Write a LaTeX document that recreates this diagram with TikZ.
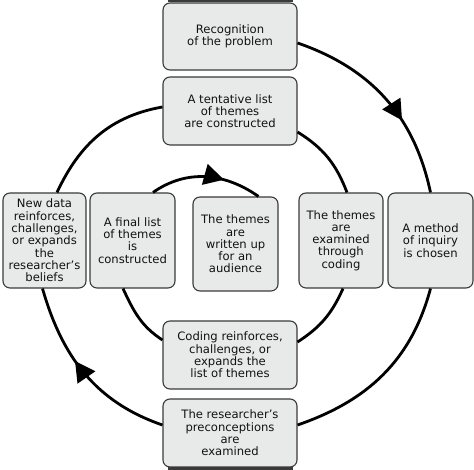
\documentclass[tikz,border=0pt]{standalone}
\usepackage{fontspec}
\setmainfont{DejaVu Sans}
\usetikzlibrary{arrows.meta,decorations.markings,calc}
\definecolor{boxfill}{HTML}{E8EAEA}
\definecolor{boxline}{HTML}{3A3A3A}
\definecolor{txt}{HTML}{111111}
\tikzset{
  stepbox/.style={draw=boxline, line width=1.1pt, fill=boxfill, rounded corners=7pt,
    align=center, inner sep=0pt, text=txt,
    font=\fontsize{11.6}{12.3}\selectfont},
  widebox/.style={stepbox, minimum width=134pt, minimum height=68pt},
  tallbox/.style={stepbox, minimum width=84pt, minimum height=95pt},
  link/.style={line width=2.8pt, black},
  midarrow/.style={postaction={decorate}, decoration={markings,
    mark=at position #1 with {\arrow{Triangle[length=20pt,width=21pt]}}}}
}
\begin{document}
\begin{tikzpicture}[x=1pt,y=1pt]
\useasboundingbox (0,0) rectangle (474,470);
\fill[boxline] (168,467.5) rectangle (293,470);
\fill[boxline] (168,0) rectangle (293,2.5);

\node[widebox, minimum height=67pt] (rec) at (230,433.5) {Recognition\\of the problem};
\node[widebox] (tent) at (230,359) {A tentative list\\of themes\\are constructed};
\node[tallbox, minimum width=83pt] (newdata) at (44.5,229.5) {New data\\reinforces,\\challenges,\\or expands\\the\\researcher’s\\beliefs};
\node[tallbox, minimum width=85pt] (final) at (132.5,229.5) {A final list\\of themes\\is\\constructed};
\node[tallbox, minimum width=85pt, minimum height=94pt] (written) at (235.5,226) {The themes\\are\\written up\\for an\\audience};
\node[tallbox] (examined) at (341,229.5) {The themes\\are\\examined\\through\\coding};
\node[tallbox, minimum width=85pt] (method) at (430.5,229.5) {A method\\of inquiry\\is chosen};
\node[widebox] (coding) at (230,115) {Coding reinforces,\\challenges, or\\expands the\\list of themes};
\node[widebox] (resp) at (230,37) {The researcher’s\\preconceptions\\are\\examined};

\draw[link, midarrow=0.63] ($(rec.east)+(0,-6.5)$) to[out=-19,in=102] (method.north);
\draw[link] (method.south) to[out=-105,in=19] ($(resp.east)+(0,8)$);
\draw[link, midarrow=0.58] ($(resp.west)+(0,8)$) to[out=161,in=-74] ($(newdata.south)+(-2,0)$);
\draw[link] ($(newdata.north)+(12.5,0)$) to[out=65,in=190] ($(tent.west)+(0,4)$);
\draw[link] ($(tent.east)+(0,-21)$) to[out=-32,in=111] ($(examined.north)+(6,0)$);
\draw[link] ($(examined.south)+(2,0)$) to[out=-114,in=33] ($(coding.east)+(0,13)$);
\draw[link] ($(coding.west)+(0,15)$) to[out=147,in=-65] ($(final.south)+(-9.5,0)$);
\draw[link, midarrow=0.66] ($(final.north)+(20.5,0)$) to[out=35,in=145] ($(written.north)+(23,0)$);
\end{tikzpicture}
\end{document}
